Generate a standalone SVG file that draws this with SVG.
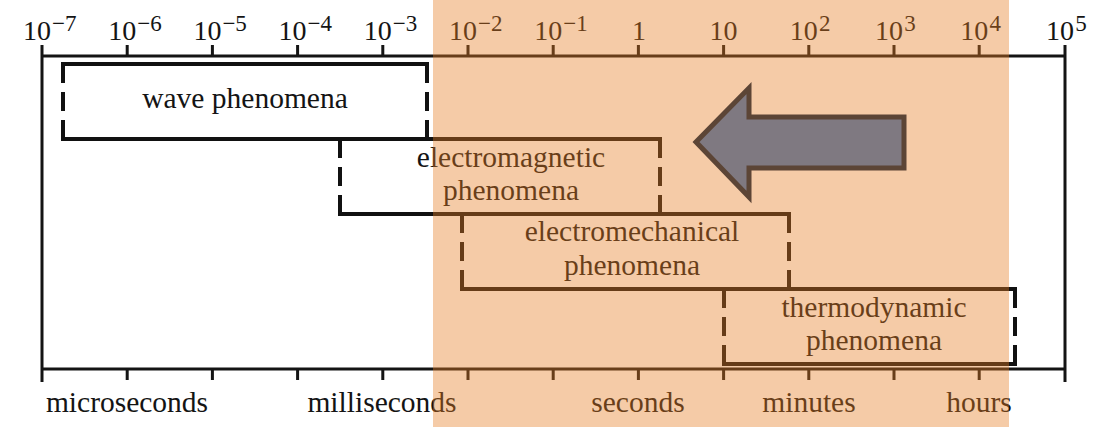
<svg xmlns="http://www.w3.org/2000/svg" width="1109" height="427" viewBox="0 0 1109 427">
<style>
text{font-family:"Liberation Serif","Times New Roman",serif;fill:#141414}
.lbl{font-size:29.5px;text-anchor:middle}
.num{font-size:28px;text-anchor:middle}
.exp{font-size:23px}
.ax{stroke:#141414;stroke-width:3;fill:none}
.solid{stroke:#111111;stroke-width:4;fill:none;stroke-linecap:square}
.dash{stroke:#111111;stroke-width:4;fill:none;stroke-dasharray:19 9}
</style>
<rect width="1109" height="427" fill="#ffffff"/>
<g id="axis">
<path class="ax" d="M42,56H1065M42,369H1065M42,45V382M1065,45V382"/>
<path class="ax" d="M127.2,45V56M212.4,45V56M297.6,45V56M382.8,45V56M468,45V56M553.2,45V56M638.4,45V56M723.6,45V56M808.8,45V56M894,45V56M979.2,45V56"/>
<path class="ax" d="M127.2,369V380M212.4,369V380M297.6,369V380M382.8,369V380M468,369V380M553.2,369V380M638.4,369V380M723.6,369V380M808.8,369V380M894,369V380M979.2,369V380"/>
<text class="num" x="37" y="40">10</text><text class="exp" x="52" y="31">−7</text>
<text class="num" x="122.2" y="40">10</text><text class="exp" x="137.2" y="31">−6</text>
<text class="num" x="207.4" y="40">10</text><text class="exp" x="222.4" y="31">−5</text>
<text class="num" x="292.6" y="40">10</text><text class="exp" x="307.6" y="31">−4</text>
<text class="num" x="377.8" y="40">10</text><text class="exp" x="392.8" y="31">−3</text>
<text class="num" x="463" y="40">10</text><text class="exp" x="478" y="31">−2</text>
<text class="num" x="548.2" y="40">10</text><text class="exp" x="563.2" y="31">−1</text>
<text class="num" x="639" y="40">1</text>
<text class="num" x="723.6" y="40">10</text>
<text class="num" x="803.8" y="40">10</text><text class="exp" x="819" y="31">2</text>
<text class="num" x="889" y="40">10</text><text class="exp" x="904.2" y="31">3</text>
<text class="num" x="974.2" y="40">10</text><text class="exp" x="989.4" y="31">4</text>
<text class="num" x="1060" y="40">10</text><text class="exp" x="1075.2" y="31">5</text>
<text class="lbl" x="127" y="412">microseconds</text>
<text class="lbl" x="382" y="412">milliseconds</text>
<text class="lbl" x="638" y="412">seconds</text>
<text class="lbl" x="809" y="412">minutes</text>
<text class="lbl" x="979" y="412">hours</text>
</g>
<g id="wave">
<path class="solid" d="M63,64H427M63,139H427"/>
<path class="dash" d="M63,64V139M427,64V139"/>
<text class="lbl" x="245" y="108">wave phenomena</text>
</g>
<g id="electromagnetic">
<path class="solid" d="M340,139H660M340,214H660"/>
<path class="dash" d="M340,139V214M660,139V214"/>
<text class="lbl" x="511" y="167">electromagnetic</text>
<text class="lbl" x="511" y="200">phenomena</text>
</g>
<g id="electromechanical">
<path class="solid" d="M462,214H789M462,289H789"/>
<path class="dash" d="M462,214V289M789,214V289"/>
<text class="lbl" x="632" y="241">electromechanical</text>
<text class="lbl" x="632" y="275">phenomena</text>
</g>
<g id="thermodynamic">
<path class="solid" d="M724,289H1015M724,364H1015"/>
<path class="dash" d="M724,289V364M1015,289V364"/>
<text class="lbl" x="874" y="317">thermodynamic</text>
<text class="lbl" x="874" y="350">phenomena</text>
</g>
<rect id="band" x="433" y="0" width="576" height="427" fill="#E67D23" fill-opacity="0.4"/>
<g id="connectors">
<polygon points="696,142 749,88 749,117 904,117 904,168 749,168 749,197" fill="#7F7981" stroke="#5C4536" stroke-width="5" stroke-linejoin="miter"/>
</g>
</svg>
